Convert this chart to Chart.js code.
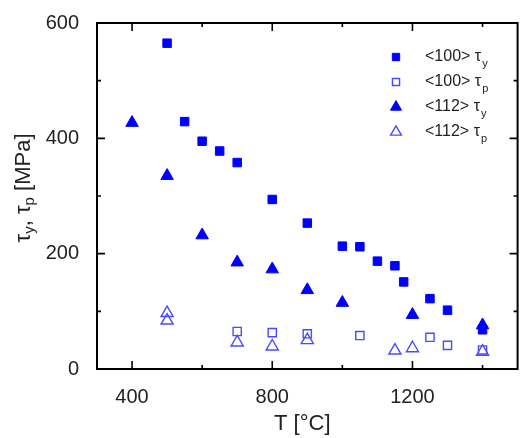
<!DOCTYPE html>
<html><head><meta charset="utf-8">
<script src="https://cdn.jsdelivr.net/npm/chart.js@4.4.1/dist/chart.umd.min.js"></script>
<style>html,body{margin:0;padding:0;background:#fff;}#wrap{width:526px;height:438px;position:relative;}</style>
</head><body><div id="wrap"><canvas id="c"></canvas></div>
<script>
// ---- data ----
const xTicks = [400, 800, 1200];
const xMinorTicks = [600, 1000, 1400];
const yTicks = [0, 200, 400, 600];
const yMinorTicks = [100, 300, 500];

const temp100y = [500, 550, 600, 650, 700, 800, 900, 1000, 1050, 1100, 1150, 1175, 1250, 1300, 1400];
const tau100y  = [565, 429, 395, 378, 358, 294, 253, 213, 212, 187, 179, 151, 122, 102, 68];

const temp100p = [700, 800, 900, 1050, 1250, 1300, 1400];
const tau100p  = [65, 63, 61, 58, 55, 41, 33];

const temp112y = [400, 500, 600, 700, 800, 900, 1000, 1200, 1400];
const tau112y  = [427, 335, 232, 185, 173, 137, 115, 94, 76];

const temp112p = [500, 500, 700, 800, 900, 1150, 1200, 1400];
const tau112p  = [97, 84, 46, 39, 50, 32, 36, 30];

const seriesNames = ['<100>', '<100>', '<112>', '<112>'];
const seriesSubs  = ['y', 'p', 'y', 'p'];
const xTitle = 'T [°C]';

const pts = (xs, ys) => xs.map((v, i) => ({x: v, y: ys[i]}));
const FILL = '#0000ff', OPEN = '#4a4aff';
const FONT = '"Liberation Sans", Arial, sans-serif';
const TXT = '#222';

const datasets = [
  {data: pts(temp100y, tau100y), pointStyle: 'rect', pointRadius: 6, backgroundColor: FILL, borderColor: FILL, borderWidth: 1},
  {data: pts(temp100p, tau100p), pointStyle: 'rect', pointRadius: 5.8, backgroundColor: 'rgba(0,0,0,0)', borderColor: OPEN, borderWidth: 1.4},
  {data: pts(temp112y, tau112y), pointStyle: 'triangle', pointRadius: 7.2, backgroundColor: FILL, borderColor: FILL, borderWidth: 1},
  {data: pts(temp112p, tau112p), pointStyle: 'triangle', pointRadius: 7, backgroundColor: 'rgba(0,0,0,0)', borderColor: OPEN, borderWidth: 1.4}
].map((d, i) => Object.assign(d, {label: seriesNames[i] + ' ' + seriesSubs[i], showLine: false, clip: false}));

const framePlugin = {
  id: 'frame',
  afterDraw(chart) {
    const {ctx, chartArea: a, scales: {x, y}} = chart;
    ctx.save();
    ctx.strokeStyle = '#000';
    ctx.lineWidth = 2;
    ctx.strokeRect(a.left, a.top, a.right - a.left, a.bottom - a.top);
    ctx.lineWidth = 1.6;
    ctx.beginPath();
    const xt = (v, len) => { const p = x.getPixelForValue(v); ctx.moveTo(p, a.bottom); ctx.lineTo(p, a.bottom - len); ctx.moveTo(p, a.top); ctx.lineTo(p, a.top + len); };
    const yt = (v, len) => { const p = y.getPixelForValue(v); ctx.moveTo(a.left, p); ctx.lineTo(a.left + len, p); ctx.moveTo(a.right, p); ctx.lineTo(a.right - len, p); };
    xTicks.forEach(v => xt(v, 8)); xMinorTicks.forEach(v => xt(v, 4));
    yTicks.forEach(v => yt(v, 8)); yMinorTicks.forEach(v => yt(v, 4));
    ctx.stroke();

    // x title
    ctx.fillStyle = TXT;
    ctx.font = '22px ' + FONT;
    ctx.textAlign = 'center'; ctx.textBaseline = 'middle';
    ctx.fillText(xTitle, (a.left + a.right) / 2 - 5, 424);

    // y title with subscripts (rotated)
    ctx.save();
    ctx.translate(24, 188);
    ctx.rotate(-Math.PI / 2);
    const big = '22px ' + FONT, small = '15px ' + FONT;
    const parts = [['τ', big, 0], ['y', small, 6], [', ', big, 0], ['τ', big, 0], ['p', small, 6], [' [MPa]', big, 0]];
    let total = 0;
    parts.forEach(p => { ctx.font = p[1]; total += ctx.measureText(p[0]).width; });
    let cx = -total / 2;
    ctx.textAlign = 'left';
    parts.forEach(p => { ctx.font = p[1]; ctx.fillText(p[0], cx, p[2]); cx += ctx.measureText(p[0]).width; });
    ctx.restore();

    // legend
    chart.data.datasets.forEach((ds, i) => {
      const ly = 57 + i * 25;
      ctx.fillStyle = ds.backgroundColor; ctx.strokeStyle = ds.borderColor; ctx.lineWidth = ds.borderWidth;
      Chart.helpers.drawPoint(ctx, {pointStyle: ds.pointStyle, radius: ds.pointRadius - 0.8, borderWidth: ds.borderWidth}, 396, ly);
      ctx.fillStyle = TXT;
      ctx.font = '16px ' + FONT;
      ctx.textAlign = 'left'; ctx.textBaseline = 'middle';
      const t = seriesNames[i] + ' τ';
      ctx.fillText(t, 425, ly);
      const w = ctx.measureText(t).width;
      ctx.font = '11px ' + FONT;
      ctx.fillText(seriesSubs[i], 425 + w + 1, ly + 7);
    });
    ctx.restore();
  }
};

new Chart(document.getElementById('c'), {
  type: 'scatter',
  data: {datasets},
  options: {
    responsive: true, maintainAspectRatio: false, animation: false, devicePixelRatio: 1,
    layout: {padding: {left: 0, top: 23, right: -3, bottom: 0}},
    plugins: {legend: {display: false}, tooltip: {enabled: false}},
    scales: {
      x: {
        type: 'linear', min: 300, max: 1500,
        grid: {display: false}, border: {display: false},
        afterBuildTicks: s => { s.ticks = xTicks.map(v => ({value: v})); },
        afterFit: s => { s.height = 69; },
        ticks: {color: TXT, font: {family: FONT, size: 20}, padding: 8, maxRotation: 0, autoSkip: false, callback: v => String(v)}
      },
      y: {
        type: 'linear', min: 0, max: 600,
        grid: {display: false}, border: {display: false},
        afterBuildTicks: s => { s.ticks = yTicks.map(v => ({value: v})); },
        afterFit: s => { s.width = 97; },
        ticks: {color: TXT, font: {family: FONT, size: 20}, padding: 10, callback: v => String(v)}
      }
    }
  },
  plugins: [framePlugin]
});
</script>
</body></html>
